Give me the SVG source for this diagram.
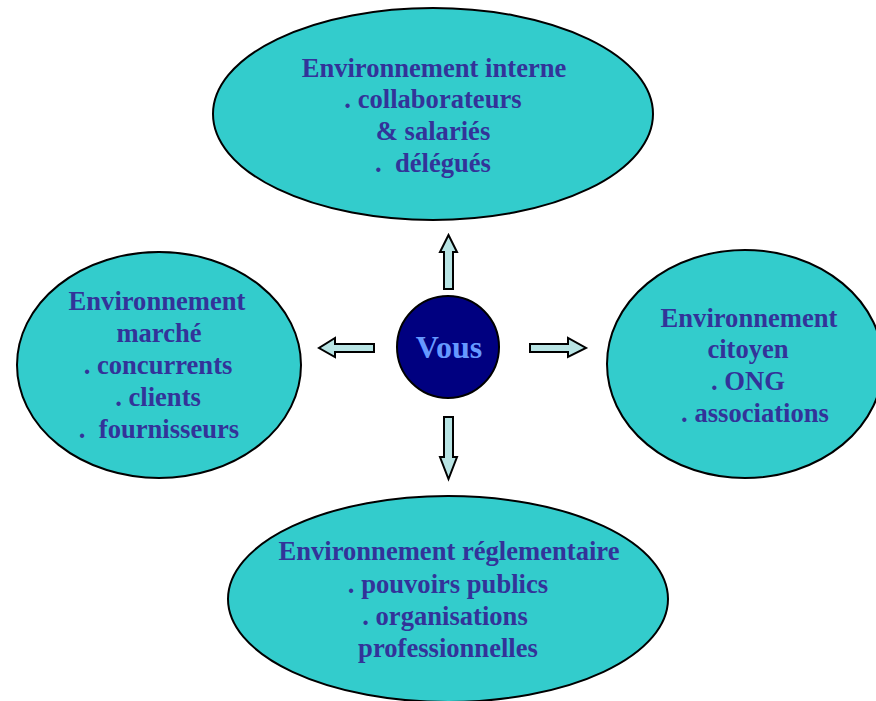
<svg xmlns="http://www.w3.org/2000/svg" width="876" height="701" viewBox="0 0 876 701">
<style>
.env{fill:#33CCCC;stroke:#000;stroke-width:2}
.t{font-family:"Liberation Serif","Times New Roman",serif;font-weight:bold;font-size:26.6px;fill:#333399;text-anchor:middle;white-space:pre}
.arr{fill:#B8E4E4;stroke:#000;stroke-width:2;stroke-linejoin:miter}
</style>
<rect width="876" height="701" fill="#fff"/>
<g id="connectors">
<path class="arr" d="M444,289 L444,252 L440,252 L448.5,235 L457,252 L453,252 L453,289 Z"/>
<path class="arr" d="M444,417 L444,457 L440,457 L448.5,479 L457,457 L453,457 L453,417 Z"/>
<path class="arr" d="M374,344 L335,344 L335,338 L319,348 L335,357 L335,352 L374,352 Z"/>
<path class="arr" d="M530,344 L568,344 L568,338 L586,348 L568,357 L568,352 L530,352 Z"/>
</g>
<g id="interne">
<ellipse class="env" cx="433" cy="114" rx="220" ry="106"/>
<text class="t" x="434" y="77">Environnement interne</text>
<text class="t" x="433" y="108">. collaborateurs</text>
<text class="t" x="433" y="140">&amp; salariés</text>
<text class="t" x="433" y="172">.  délégués</text>
</g>
<g id="marche">
<ellipse class="env" cx="159" cy="365" rx="142" ry="113"/>
<text class="t" x="157" y="310">Environnement</text>
<text class="t" x="159" y="342">marché</text>
<text class="t" x="158" y="374">. concurrents</text>
<text class="t" x="158" y="406">. clients</text>
<text class="t" x="159" y="438">.  fournisseurs</text>
</g>
<g id="citoyen">
<ellipse class="env" cx="745" cy="364" rx="138" ry="114"/>
<text class="t" x="749" y="327">Environnement</text>
<text class="t" x="748" y="358">citoyen</text>
<text class="t" x="748" y="390">. ONG</text>
<text class="t" x="755" y="422">. associations</text>
</g>
<g id="reglementaire">
<ellipse class="env" cx="448" cy="599" rx="220" ry="103"/>
<text class="t" x="449" y="560">Environnement réglementaire</text>
<text class="t" x="448" y="593">. pouvoirs publics</text>
<text class="t" x="445" y="625">. organisations</text>
<text class="t" x="448" y="657">professionnelles</text>
</g>
<g id="vous">
<circle cx="448" cy="347" r="51" fill="#000080" stroke="#000" stroke-width="2"/>
<text x="449" y="358" style="font-family:'Liberation Serif','Times New Roman',serif;font-weight:bold;font-size:32px;fill:#6699FF;text-anchor:middle">Vous</text>
</g>
</svg>
